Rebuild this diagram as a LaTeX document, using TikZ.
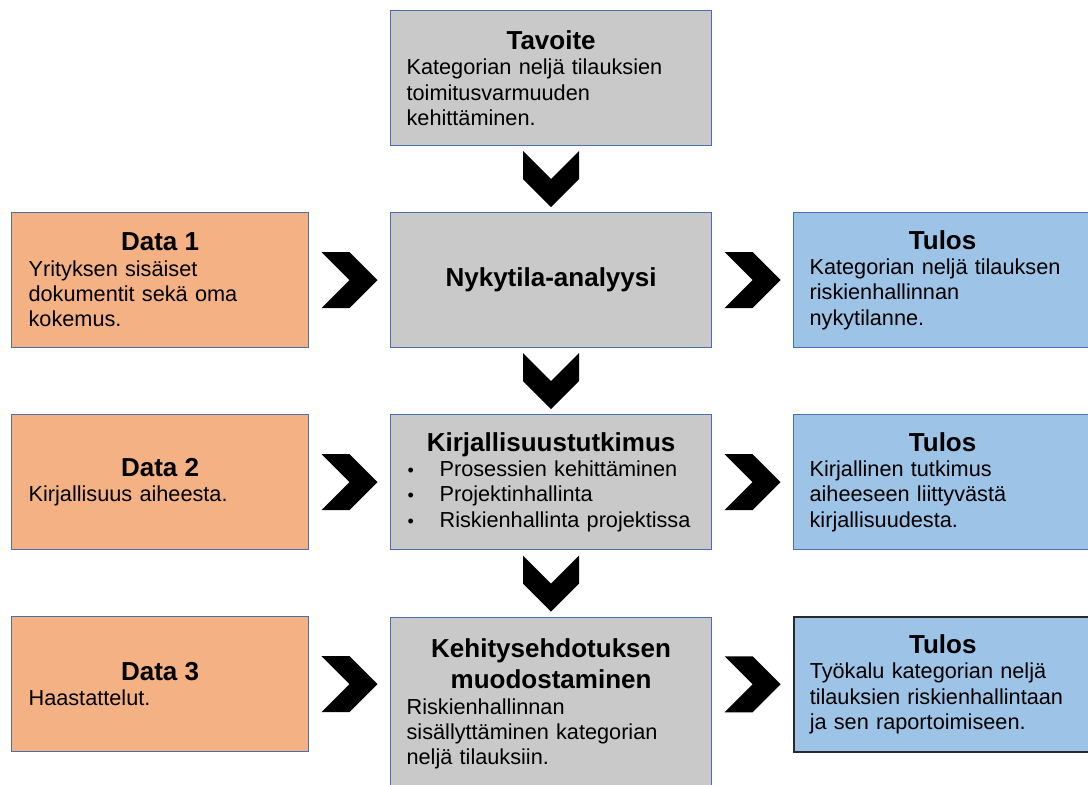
\documentclass[tikz,border=0pt]{standalone}
\usepackage{fontspec}
\setmainfont{Liberation Sans}
\usetikzlibrary{calc}

\definecolor{boxgray}{HTML}{C9C9C9}
\definecolor{dataorange}{HTML}{F4B183}
\definecolor{resultblue}{HTML}{9DC3E6}
\definecolor{edgeblue}{HTML}{4A6FAE}
\definecolor{edgedark}{HTML}{2A2A2A}

\newcommand{\ttl}[1]{{\centering\fontsize{26}{31}\selectfont\bfseries #1\par}}
\newcommand{\bul}{\makebox[32pt][l]{\fontsize{18}{18}\selectfont\textbullet}}

\tikzset{
  basebox/.style={rectangle, draw=edgeblue, line width=1.2pt, anchor=north west,
    inner xsep=16pt, inner ysep=0pt, align=left,
    font=\fontsize{21.7}{25.3}\selectfont},
  midbox/.style={basebox, fill=boxgray, minimum width=321pt, text width=289pt},
  databox/.style={basebox, fill=dataorange, minimum width=297pt, text width=265pt,
    minimum height=135pt},
  resbox/.style={basebox, fill=resultblue, minimum width=298pt, text width=266pt,
    minimum height=135pt},
  chevright/.pic={\fill[black] (-28,-28) -- (0,-28) -- (28,0) -- (0,28) -- (-28,28) -- (0,0) -- cycle;},
  chevdown/.pic={\fill[black] (-28,-28) -- (0,0) -- (28,-28) -- (28,0) -- (0,28) -- (-28,0) -- cycle;}
}

\begin{document}
\begin{tikzpicture}[x=1pt, y=-1pt]
\useasboundingbox (0,0) rectangle (1088,785);
\clip (0,0) rectangle (1088,785);

% centre column
\node[midbox, minimum height=135pt] (goal) at (390,10)
  {\ttl{Tavoite}Kategorian neljä tilauksien\\toimitusvarmuuden\\kehittäminen.};
\node[midbox, minimum height=135pt] (current) at (390,212)
  {\ttl{Nykytila-analyysi}};
\node[midbox, minimum height=135pt, inner xsep=17pt, text width=287pt] (lit) at (390,414)
  {\ttl{Kirjallisuustutkimus}\bul Prosessien kehittäminen\\\bul Projektinhallinta\\\bul Riskienhallinta projektissa};
\node[midbox, minimum height=173pt] (dev) at (390,617)
  {\ttl{Kehitysehdotuksen\\muodostaminen}Riskienhallinnan\\sisällyttäminen kategorian\\neljä tilauksiin.};

% data inputs
\node[databox, inner xsep=17pt, text width=263pt] (d1) at (11,212)
  {\ttl{Data 1}Yrityksen sisäiset\\dokumentit sekä oma\\kokemus.};
\node[databox, inner xsep=17pt, text width=263pt] (d2) at (11,414)
  {\ttl{Data 2}Kirjallisuus aiheesta.};
\node[databox, inner xsep=17pt, text width=263pt] (d3) at (11,616)
  {\ttl{Data 3}Haastattelut.};

% results
\node[resbox] (r1) at (793,212)
  {\ttl{Tulos}Kategorian neljä tilauksen\\riskienhallinnan\\nykytilanne.};
\node[resbox] (r2) at (793,414)
  {\ttl{Tulos}Kirjallinen tutkimus\\aiheeseen liittyvästä\\kirjallisuudesta.};
\node[resbox, draw=edgedark, line width=1.5pt] (r3) at (793,616)
  {\ttl{Tulos}Työkalu kategorian neljä\\tilauksien riskienhallintaan\\ja sen raportoimiseen.};

% chevron connectors
\pic at ($(goal.south)!0.5!(current.north)$) {chevdown};
\pic at ($(current.south)!0.5!(lit.north)$) {chevdown};
\pic at ($(lit.south)!0.5!(dev.north)$) {chevdown};

\pic at ($(d1.east)!0.5!(current.west)$) {chevright};
\pic at ($(d2.east)!0.5!(lit.west)$) {chevright};
\pic at ($(d3.east)!0.5!(dev.west |- d3.east)$) {chevright};

\pic at ($(current.east)!0.5!(r1.west)$) {chevright};
\pic at ($(lit.east)!0.5!(r2.west)$) {chevright};
\pic at ($(dev.east |- r3.west)!0.5!(r3.west)$) {chevright};
\end{tikzpicture}
\end{document}
